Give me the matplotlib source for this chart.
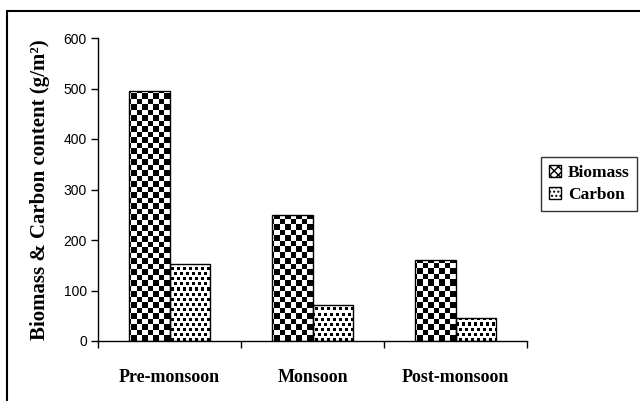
import numpy as np
import matplotlib
matplotlib.use("Agg")
import matplotlib.pyplot as plt
from matplotlib.patches import Patch, Rectangle

seasons = ['Pre-monsoon', 'Monsoon', 'Post-monsoon']
biomass = [495, 250, 161]
carbon = [153, 72, 46]
y_ticks = [0, 100, 200, 300, 400, 500, 600]

serif = 'Liberation Serif'
sans = 'Liberation Sans'


def checker(ny, nx, cell=5.5):
    yy, xx = np.mgrid[0:ny, 0:nx]
    return ((np.floor(yy / cell) + np.floor(xx / cell)) % 2).astype(float)


def stipple(ny, nx, px=6, py=5):
    # staggered 3x3 black dots on white
    yy, xx = np.mgrid[0:ny, 0:nx]
    row = yy // py
    shift = (row % 2) * (px // 2)
    dot = ((xx + shift) % px < 3) & (yy % py < 3)
    return np.where(dot, 0.0, 1.0)


def pattern_fill(ax, bar, maker):
    # pixel pattern over the axes, clipped to the bar rectangle
    bb = ax.get_window_extent()
    nx, ny = int(round(bb.width)), int(round(bb.height))
    im = ax.imshow(maker(ny, nx), cmap='gray', vmin=0, vmax=1,
                   interpolation='nearest', extent=[0, 1, 0, 1],
                   transform=ax.transAxes, aspect='auto', zorder=2,
                   origin='upper')
    im.set_clip_path(bar)


fig = plt.figure(figsize=(6.4, 4.01), dpi=100)
ax = fig.add_axes([98 / 640, 1 - 341 / 401, (527 - 98) / 640, (341 - 38) / 401])

x = np.arange(len(seasons))
width = 0.285
b_bars = ax.bar(x - width / 2, biomass, width, facecolor='none',
                edgecolor='black', linewidth=1.0, zorder=3)
c_bars = ax.bar(x + width / 2, carbon, width, facecolor='none',
                edgecolor='black', linewidth=1.0, zorder=3)

ax.set_xlim(-0.5, len(seasons) - 0.5)
ax.set_ylim(0, 600)
ax.set_yticks(y_ticks)
ax.set_yticklabels([str(v) for v in y_ticks], fontfamily=sans, fontsize=10)
ax.set_xticks(x)
ax.set_xticklabels(seasons, fontfamily=serif, fontweight='bold', fontsize=13)
ax.tick_params(axis='x', which='major', length=0, pad=20)
ax.set_xticks(np.arange(len(seasons) + 1) - 0.5, minor=True)
ax.tick_params(axis='x', which='minor', length=5, direction='out', width=1)
ax.tick_params(axis='y', length=5, width=1, direction='out', pad=3)
ax.spines['top'].set_visible(False)
ax.spines['right'].set_visible(False)
ax.spines['left'].set_linewidth(1)
ax.spines['bottom'].set_linewidth(1)

ax.set_ylabel('Biomass & Carbon content (g/m\u00b2)', fontfamily=serif,
              fontweight='bold', fontsize=15, labelpad=10)

fig.canvas.draw()
for b in b_bars:
    pattern_fill(ax, b, checker)
for b in c_bars:
    pattern_fill(ax, b, stipple)

handles = [Patch(facecolor='white', edgecolor='black', hatch='XXXX', label='Biomass'),
           Patch(facecolor='white', edgecolor='black', hatch='....', label='Carbon')]
leg = fig.legend(handles=handles, loc='upper left',
                 bbox_to_anchor=(541 / 640, 1 - 157 / 401),
                 bbox_transform=fig.transFigure, frameon=True, fancybox=False,
                 handlelength=0.7, handleheight=0.7, handletextpad=0.4,
                 borderpad=0.45, labelspacing=0.35, borderaxespad=0,
                 prop={'family': serif, 'weight': 'bold', 'size': 12.5})
leg.get_frame().set_edgecolor('black')
leg.get_frame().set_linewidth(1)

fig.patches.append(Rectangle((7 / 640, -0.1), 1.1, 1 - 11 / 401 + 0.1,
                             transform=fig.transFigure, fill=False,
                             edgecolor='black', linewidth=1.5))

fig.savefig('out.png', dpi=100)
